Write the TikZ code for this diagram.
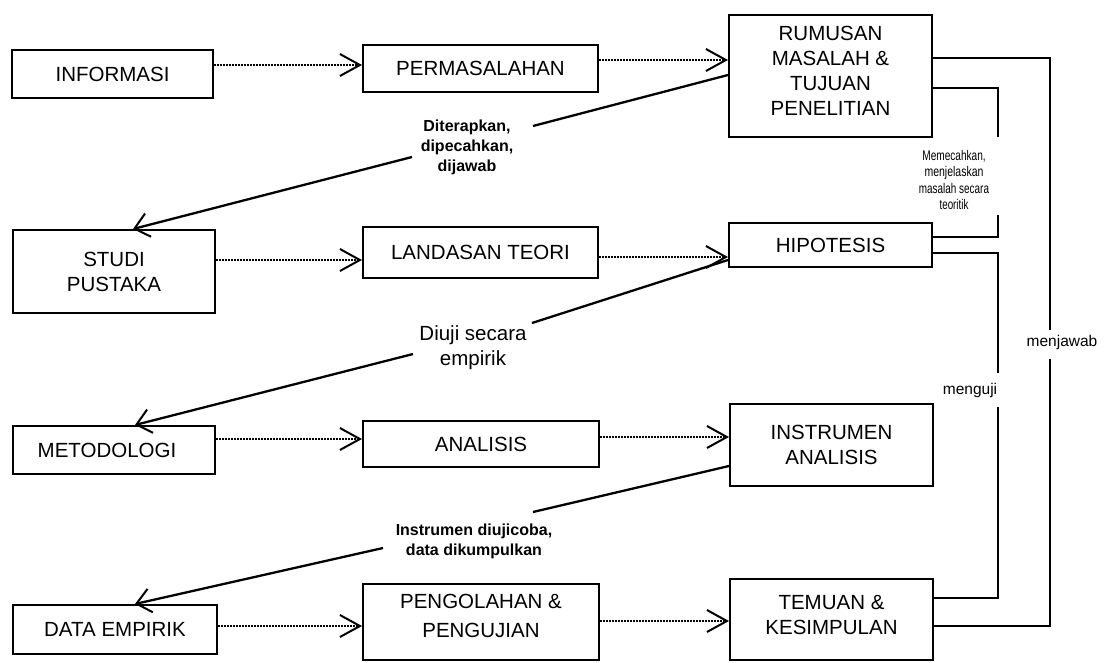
\documentclass[tikz,border=0pt]{standalone}
\usepackage{fontspec}
\setmainfont{Liberation Sans}
\usetikzlibrary{arrows.meta}
\begin{document}
\begin{tikzpicture}[x=1pt,y=-1pt,
  box/.style={draw, line width=2pt, align=center, inner sep=2pt, font=\fontsize{20.5}{25}\selectfont},
  dotarrow/.style={line width=1.8pt, dash pattern=on 2pt off 1pt, -{Straight Barb[length=20pt,width=22pt,line width=2pt]}},
  diagarrow/.style={line width=2.3pt, -{Straight Barb[length=14pt,width=24pt,line width=2pt]}},
  diagline/.style={line width=2.3pt},
  link/.style={line width=2pt},
  smallbold/.style={align=center, inner sep=0pt, font=\fontsize{16}{20}\selectfont\bfseries},
  bigtxt/.style={align=center, inner sep=0pt, font=\fontsize{20.5}{25}\selectfont},
  midtxt/.style={align=center, inner sep=0pt, font=\fontsize{15.5}{18}\selectfont},
  tinytxt/.style={align=center, inner sep=0pt, font=\fontsize{14}{16.3}\selectfont}
]
\fill[white] (0,0) rectangle (1110,662);
\useasboundingbox (0,0) rectangle (1110,662);

% boxes
\node[box, minimum width=201pt, minimum height=48pt] (info) at (112.5,74) {INFORMASI};
\node[box, minimum width=235pt, minimum height=47pt] (perm) at (480.5,68.5) {PERMASALAHAN};
\node[box, minimum width=203pt, minimum height=122pt] (rum) at (830.5,76) {RUMUSAN\\MASALAH \&\\TUJUAN\\PENELITIAN\\[-14pt]\mbox{}};
\node[box, minimum width=202pt, minimum height=83pt] (studi) at (114,271.5) {STUDI\\PUSTAKA};
\node[box, minimum width=235pt, minimum height=51pt] (land) at (480.5,252.5) {LANDASAN TEORI};
\node[box, minimum width=203pt, minimum height=44pt] (hip) at (830.5,245) {HIPOTESIS};
\node[box, minimum width=202pt, minimum height=48pt] (meto) at (114,450) {METODOLOGI\hspace{14pt}};
\node[box, minimum width=236pt, minimum height=46pt] (anal) at (481,444) {ANALISIS};
\node[box, minimum width=203pt, minimum height=82pt] (inst) at (831.5,445) {INSTRUMEN\\ANALISIS};
\node[box, minimum width=204pt, minimum height=49pt] (data) at (115,629.5) {DATA EMPIRIK};
\node[box, minimum width=236pt, minimum height=76pt] (peng) at (481,622) {PENGOLAHAN \&\\[4pt]PENGUJIAN\\[-12pt]\mbox{}};
\node[box, minimum width=203pt, minimum height=81pt] (temu) at (831.5,619.5) {TEMUAN \&\\KESIMPULAN\\[-16pt]\mbox{}};

% dotted arrows
\draw[dotarrow] (info.east |- 0,65) -- (perm.west |- 0,65);
\draw[dotarrow] (perm.east |- 0,60) -- (rum.west |- 0,60);
\draw[dotarrow] (studi.east |- 0,260) -- (land.west |- 0,260);
\draw[dotarrow] (land.east |- 0,257) -- (hip.west |- 0,257);
\draw[dotarrow] (meto.east |- 0,439) -- (anal.west |- 0,439);
\draw[dotarrow] (anal.east |- 0,437) -- (inst.west |- 0,437);
\draw[dotarrow] (data.east |- 0,626) -- (peng.west |- 0,626);
\draw[dotarrow] (peng.east |- 0,621) -- (temu.west |- 0,621);

% diagonal connectors
\coordinate (g1a) at (533,126);
\coordinate (g1b) at (412,157);
\draw[diagline] (rum.west |- 0,75) -- (g1a);
\draw[diagarrow] (g1b) -- (133,0 |- studi.north);
\node[smallbold] (l1) at (467,147) {Diterapkan,\\dipecahkan,\\dijawab};

\coordinate (g2a) at (532,323);
\coordinate (g2b) at (413,354);
\draw[diagline] (hip.west |- 0,260) -- (g2a);
\draw[diagarrow] (g2b) -- (135,0 |- meto.north);
\node[bigtxt] (l2) at (473,348) {Diuji secara\\empirik};

\coordinate (g3a) at (533,512);
\coordinate (g3b) at (383,548);
\draw[diagline] (inst.west |- 0,466) -- (g3a);
\draw[diagarrow] (g3b) -- (135,0 |- data.north);
\node[smallbold] (l3) at (474,541) {Instrumen diujicoba,\\data dikumpulkan};

% right side connectors
\coordinate (jw1) at (1050,330);
\coordinate (jw2) at (1050,359);
\draw[link] (rum.east |- 0,58) -| (jw1);
\draw[link] (jw2) |- (temu.east |- 0,626);
\node[midtxt] (ljw) at (1062,342) {menjawab};

\coordinate (mm1) at (998,137);
\coordinate (mm2) at (998,215);
\draw[link] (rum.east |- 0,88) -| (mm1);
\draw[link] (mm2) |- (hip.east |- 0,237);
\node[tinytxt] (lmm) at (954,180) {\scalebox{0.72}[1]{Memecahkan,}\\\scalebox{0.75}[1]{menjelaskan}\\\scalebox{0.71}[1]{masalah secara}\\\scalebox{0.7}[1]{teoritik}};

\coordinate (mg1) at (998,373);
\coordinate (mg2) at (998,407);
\draw[link] (hip.east |- 0,253) -| (mg1);
\draw[link] (mg2) |- (temu.east |- 0,598);
\node[midtxt] (lmg) at (970,390) {menguji};
\end{tikzpicture}
\end{document}
